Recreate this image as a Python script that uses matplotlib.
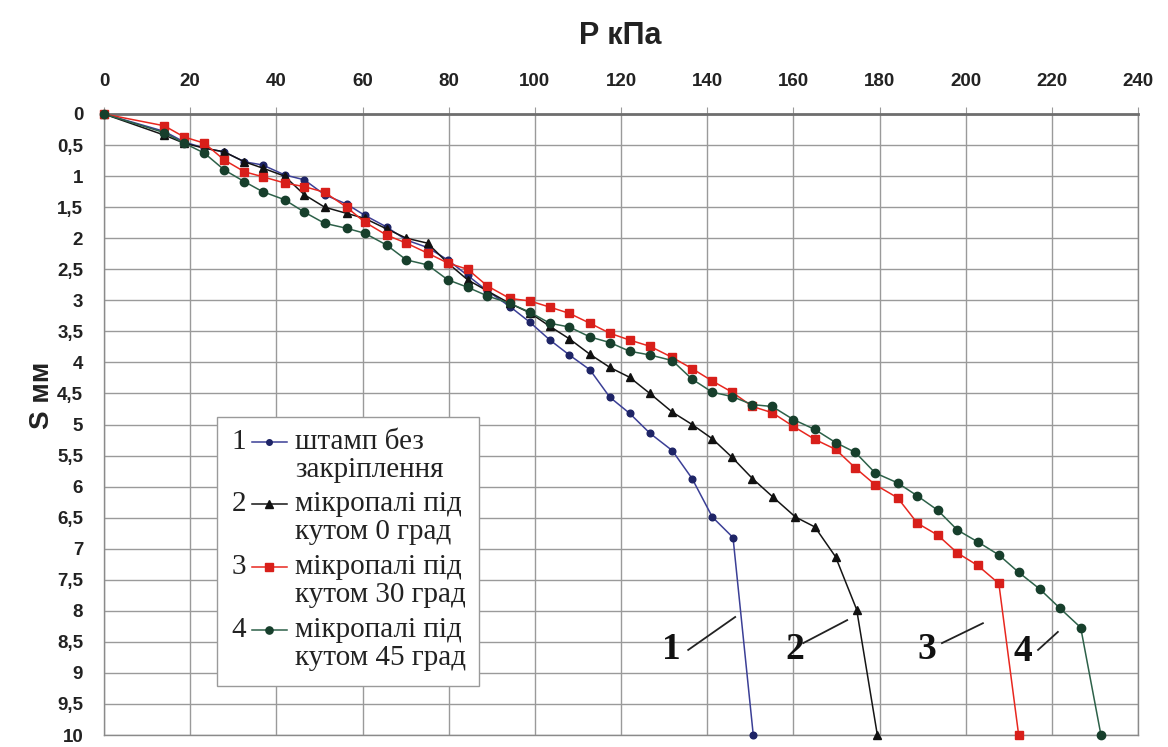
import numpy as np
import matplotlib
matplotlib.use("Agg")
import matplotlib.pyplot as plt
from matplotlib.ticker import MultipleLocator, FuncFormatter
from matplotlib.patches import Rectangle
from matplotlib.lines import Line2D

# Load P (kPa) vs settlement S (mm)
p1 = [0, 14, 18.6, 23.3, 27.9, 32.6, 36.8, 41.9, 46.5, 51.2, 56.3, 60.5, 65.6, 70.2, 75.1,
      79.8, 84.4, 89, 94.2, 98.8, 103.5, 108, 112.8, 117.4, 122, 126.7, 131.9, 136.5,
      141.2, 146, 150.7]
s1 = [0, 0.28, 0.45, 0.55, 0.61, 0.77, 0.82, 0.98, 1.06, 1.3, 1.45, 1.63, 1.82, 2.03, 2.15,
      2.35, 2.6, 2.85, 3.1, 3.35, 3.64, 3.88, 4.12, 4.56, 4.82, 5.14, 5.42, 5.87,
      6.49, 6.82, 10]

p2 = [0, 14, 18.6, 23.3, 27.9, 32.6, 36.8, 41.9, 46.5, 51.2, 56.3, 60.5, 65.6, 70.2, 75.1,
      79.8, 84.4, 89, 94.2, 98.8, 103.5, 108, 112.8, 117.4, 122, 126.7, 131.9, 136.5,
      141.2, 145.8, 150.5, 155.3, 160.5, 165, 169.8, 174.7, 179.5]
s2 = [0, 0.34, 0.47, 0.55, 0.61, 0.77, 0.87, 1.0, 1.3, 1.5, 1.6, 1.68, 1.85, 2.0, 2.08,
      2.4, 2.67, 2.85, 3.05, 3.2, 3.42, 3.62, 3.87, 4.08, 4.24, 4.5, 4.8, 5.0,
      5.23, 5.53, 5.87, 6.17, 6.49, 6.65, 7.13, 7.98, 10]

p3 = [0, 14, 18.6, 23.3, 27.9, 32.6, 36.8, 41.9, 46.5, 51.2, 56.3, 60.5, 65.6, 70.2, 75.1,
      79.8, 84.4, 89, 94.2, 98.8, 103.5, 108, 112.8, 117.4, 122, 126.7, 131.9, 136.5,
      141.2, 145.8, 150.5, 155.1, 160, 165, 169.8, 174.4, 179, 184.2, 188.8, 193.5,
      198.1, 202.8, 207.7, 212.3]
s3 = [0, 0.19, 0.37, 0.47, 0.74, 0.93, 1.01, 1.11, 1.17, 1.26, 1.5, 1.74, 1.95, 2.08, 2.24,
      2.4, 2.5, 2.77, 2.97, 3.01, 3.11, 3.21, 3.37, 3.53, 3.64, 3.74, 3.92, 4.1,
      4.3, 4.48, 4.71, 4.81, 5.03, 5.24, 5.4, 5.7, 5.97, 6.18, 6.59, 6.78,
      7.07, 7.27, 7.56, 10]

p4 = [0, 14, 18.6, 23.3, 27.9, 32.6, 36.8, 41.9, 46.5, 51.2, 56.3, 60.5, 65.6, 70.2, 75.1,
      79.8, 84.4, 89, 94.2, 98.8, 103.5, 108, 112.8, 117.4, 122, 126.7, 131.9, 136.5,
      141.2, 145.8, 150.5, 155.1, 160, 165, 169.8, 174.4, 179, 184.2, 188.8, 193.5,
      198.1, 202.8, 207.7, 212.3, 217.2, 221.9, 226.7, 231.4]
s4 = [0, 0.3, 0.47, 0.63, 0.9, 1.09, 1.25, 1.38, 1.58, 1.76, 1.84, 1.92, 2.11, 2.35, 2.43,
      2.67, 2.79, 2.93, 3.05, 3.19, 3.37, 3.43, 3.59, 3.68, 3.82, 3.88, 3.97, 4.27,
      4.48, 4.55, 4.68, 4.71, 4.92, 5.08, 5.29, 5.45, 5.78, 5.94, 6.15, 6.38,
      6.7, 6.89, 7.1, 7.38, 7.65, 7.96, 8.27, 10]

numbers = ["1", "2", "3", "4"]
labels = [["штамп без", "закріплення"],
          ["мікропалі під", "кутом 0 град"],
          ["мікропалі під", "кутом 30 град"],
          ["мікропалі під", "кутом 45 град"]]

# style for each curve: line colour, marker, marker colour, marker size
styles = [("#3b3f96", "o", "#1e2466", 4.8),
          ("#151515", "^", "#111111", 6.2),
          ("#e8271f", "s", "#d81f1a", 6.2),
          ("#2d6149", "o", "#173f2c", 6.0)]

fig = plt.figure(figsize=(11.68, 7.47), dpi=100)
W, H = 1168, 747
L, T, R, B = 104, 114, 1138, 735
ax = fig.add_axes([L / W, 1 - B / H, (R - L) / W, (B - T) / H])

grid_c = "#9a9a9a"
ax.set_xlim(0, 240)
ax.set_ylim(10, 0)
ax.xaxis.tick_top()
ax.xaxis.set_major_locator(MultipleLocator(20))
ax.yaxis.set_major_locator(MultipleLocator(0.5))
ax.yaxis.set_major_formatter(FuncFormatter(lambda v, pos: ("%g" % v).replace(".", ",")))
ax.grid(True, color=grid_c, linewidth=1.0)
ax.set_axisbelow(True)
for sp in ax.spines.values():
    sp.set_color("#8a8a8a")
    sp.set_linewidth(1.0)
ax.spines["top"].set_color("#6e6e6e")
ax.spines["top"].set_linewidth(2.0)

ax.tick_params(axis="x", which="both", top=True, bottom=False, length=5, color=grid_c,
               pad=12, labelsize=13.5)
ax.tick_params(axis="y", length=0, pad=15, labelsize=13.5)
for lab in ax.get_xticklabels() + ax.get_yticklabels():
    lab.set_fontfamily("Liberation Sans")
    lab.set_fontweight("bold")
    lab.set_color("#222222")

fig.text(620 / W, 1 - 36 / H, "P кПа", ha="center", va="center",
         fontfamily="Liberation Sans", fontweight="bold", fontsize=22, color="#222222")
fig.text(42 / W, 1 - 395 / H, "S мм", ha="center", va="center", rotation=90,
         fontfamily="Liberation Sans", fontweight="bold", fontsize=20, color="#222222")

series = [(p1, s1), (p2, s2), (p3, s3), (p4, s4)]
for (p, s), (lc, mk, mc, ms) in zip(series, styles):
    ax.plot(p, s, color=lc, linewidth=1.1, marker=mk, markersize=ms,
            markerfacecolor=mc, markeredgecolor=mc, clip_on=False, zorder=3)

# curve numbers with leader lines
serif_b = dict(family="Liberation Serif", weight="bold", size=27, color="#111111")
ax.text(131.8, 8.63, "1", ha="center", va="center", **serif_b)
ax.text(160.4, 8.63, "2", ha="center", va="center", **serif_b)
ax.text(191.0, 8.63, "3", ha="center", va="center", **serif_b)
ax.text(213.3, 8.66, "4", ha="center", va="center", **serif_b)
leaders = [((135.6, 8.63), (146.5, 8.1)),
           ((162.3, 8.52), (172.5, 8.15)),
           ((194.5, 8.52), (204.0, 8.2)),
           ((216.8, 8.63), (221.4, 8.34))]
for a, b in leaders:
    ax.plot([a[0], b[0]], [a[1], b[1]], color="#222222", linewidth=1.3, zorder=4)

# hand-made legend box
def fx(px):
    return (px - L) / (R - L)

def fy(py):
    return 1 - (py - T) / (B - T)

ax.add_patch(Rectangle((fx(217), fy(686)), fx(479) - fx(217), fy(417) - fy(686),
                       transform=ax.transAxes, facecolor="white", edgecolor="#9a9a9a",
                       linewidth=1.0, zorder=5))
rows = [442, 504, 567, 630]
leg_font = dict(family="Liberation Serif", size=21, color="#222222")
for i, y0 in enumerate(rows):
    lc, mk, mc, ms = styles[i]
    ax.text(fx(246), fy(y0), numbers[i], ha="right", va="center",
            transform=ax.transAxes, zorder=6, **leg_font)
    ax.add_line(Line2D([fx(252), fx(287)], [fy(y0), fy(y0)], transform=ax.transAxes,
                       color=lc, linewidth=1.1, zorder=6))
    ax.add_line(Line2D([fx(269)], [fy(y0)], transform=ax.transAxes, marker=mk,
                       markersize=ms - 0.8, markerfacecolor=mc, markeredgecolor=mc,
                       linestyle="none", zorder=7))
    ax.text(fx(295), fy(y0), labels[i][0], ha="left", va="center",
            transform=ax.transAxes, zorder=6, **leg_font)
    ax.text(fx(295), fy(y0 + 28), labels[i][1], ha="left", va="center",
            transform=ax.transAxes, zorder=6, **leg_font)

fig.savefig("out.png", dpi=100)
